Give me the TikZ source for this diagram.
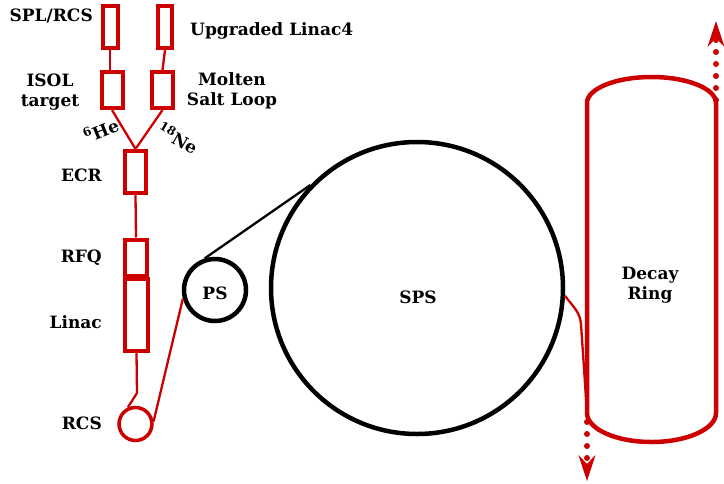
\documentclass[tikz,border=0pt]{standalone}
\usepackage{fontspec}
\setmainfont{DejaVu Serif}
\usetikzlibrary{arrows.meta}
\definecolor{ringred}{RGB}{204,0,0}
\begin{document}
\begin{tikzpicture}[x=1pt,y=-1pt,
  lbl/.style={font=\bfseries\fontsize{17}{20}\selectfont, inner sep=0pt, text=black},
  box/.style={draw=ringred, line width=4pt, inner sep=0pt, rectangle},
  beam/.style={draw=ringred, line width=2.3pt},
  ringline/.style={draw=ringred, line width=4.5pt},
  dotarrow/.style={draw=ringred, line width=6pt, line cap=round, dash pattern=on 0pt off 12pt,
    -{Stealth[length=26pt,width=17pt,inset=9pt,line width=1pt]}},
  bigcirc/.style={circle, draw=black, line width=4.5pt, inner sep=0pt}]
\useasboundingbox[fill=white] (0,0) rectangle (724,483);

% boxes
\node[box, minimum width=15pt, minimum height=42pt] (spl) at (110,27) {};
\node[box, minimum width=14pt, minimum height=42pt] (upg) at (165,27) {};
\node[box, minimum width=21pt, minimum height=36pt] (isol) at (112,90) {};
\node[box, minimum width=21pt, minimum height=36pt] (molten) at (162.5,90) {};
\node[box, minimum width=21.5pt, minimum height=42pt] (ecr) at (135.5,172) {};
\node[box, minimum width=22.5pt, minimum height=36pt] (rfq) at (136,257.5) {};
\node[box, minimum width=23.5pt, minimum height=72pt] (linac) at (136.5,314.5) {};
\node[circle, draw=ringred, line width=3.5pt, minimum size=33pt, inner sep=0pt] (rcs) at (135.5,424) {};

% circles
\node[bigcirc, minimum size=62pt] (ps) at (215,290) {};
\node[bigcirc, minimum size=292pt] (sps) at (417,288) {};

% connectors
\draw[beam] (spl.south) -- (isol.north -| spl.south);
\draw[beam] (upg.south) -- (molten.north);
\draw[beam] (isol.south) -- (ecr.north);
\draw[beam] (molten.south) -- (ecr.north);
\draw[beam] (ecr.south) -- (rfq.north);
\coordinate (bend) at (137,393);
\draw[beam] (linac.south) -- (bend) -- (rcs.115);
\draw[beam] (rcs.8) -- (ps.195);
\draw[black, line width=2.3pt] (ps.108) -- (sps.136);

% decay ring
\coordinate (tl) at (587,103);
\coordinate (tr) at (716,103);
\coordinate (bl) at (587,413);
\coordinate (br) at (716,413);
\draw[ringline] (tl) .. controls (587,88.6) and (615.9,77) .. (651.5,77)
  .. controls (687.1,77) and (716,88.6) .. (tr) -- (br)
  .. controls (716,429) and (687.1,442) .. (651.5,442)
  .. controls (615.9,442) and (587,429) .. (bl) -- cycle;
\coordinate (injbend) at (581,324);
\draw[beam] (sps.-3) to[out=-55,in=95] (injbend) -- (bl);

% extraction arrows
\coordinate (topstart) at (716,100);
\coordinate (topend) at (716,21);
\coordinate (botstart) at (587,422);
\coordinate (botend) at (587,481);
\draw[dotarrow] (topstart) -- (topend);
\draw[dotarrow] (botstart) -- (botend);

% labels
\node[lbl, anchor=east] (lspl) at (93,16) {SPL/RCS};
\node[lbl, anchor=west] (lupg) at (190,31) {Upgraded Linac4};
\node[lbl, align=center] (lisol) at (50,92) {ISOL\\target};
\node[lbl, align=center] (lmol) at (232,91) {Molten\\Salt Loop};
\node[lbl, rotate=22] (lhe) at (101,130) {\textsuperscript{6}He};
\node[lbl, rotate=-30] (lne) at (178,138) {\textsuperscript{18}Ne};
\node[lbl, anchor=east] (lecr) at (102,175) {ECR};
\node[lbl, anchor=east] (lrfq) at (102,258) {RFQ};
\node[lbl, anchor=east] (llinac) at (102,322) {Linac};
\node[lbl, anchor=east] (lrcs) at (102,423) {RCS};
\node[lbl] (lps) at (215,293) {PS};
\node[lbl] (lsps) at (418,297) {SPS};
\node[lbl, align=center] (ldecay) at (650,285) {Decay\\Ring};
\end{tikzpicture}
\end{document}
